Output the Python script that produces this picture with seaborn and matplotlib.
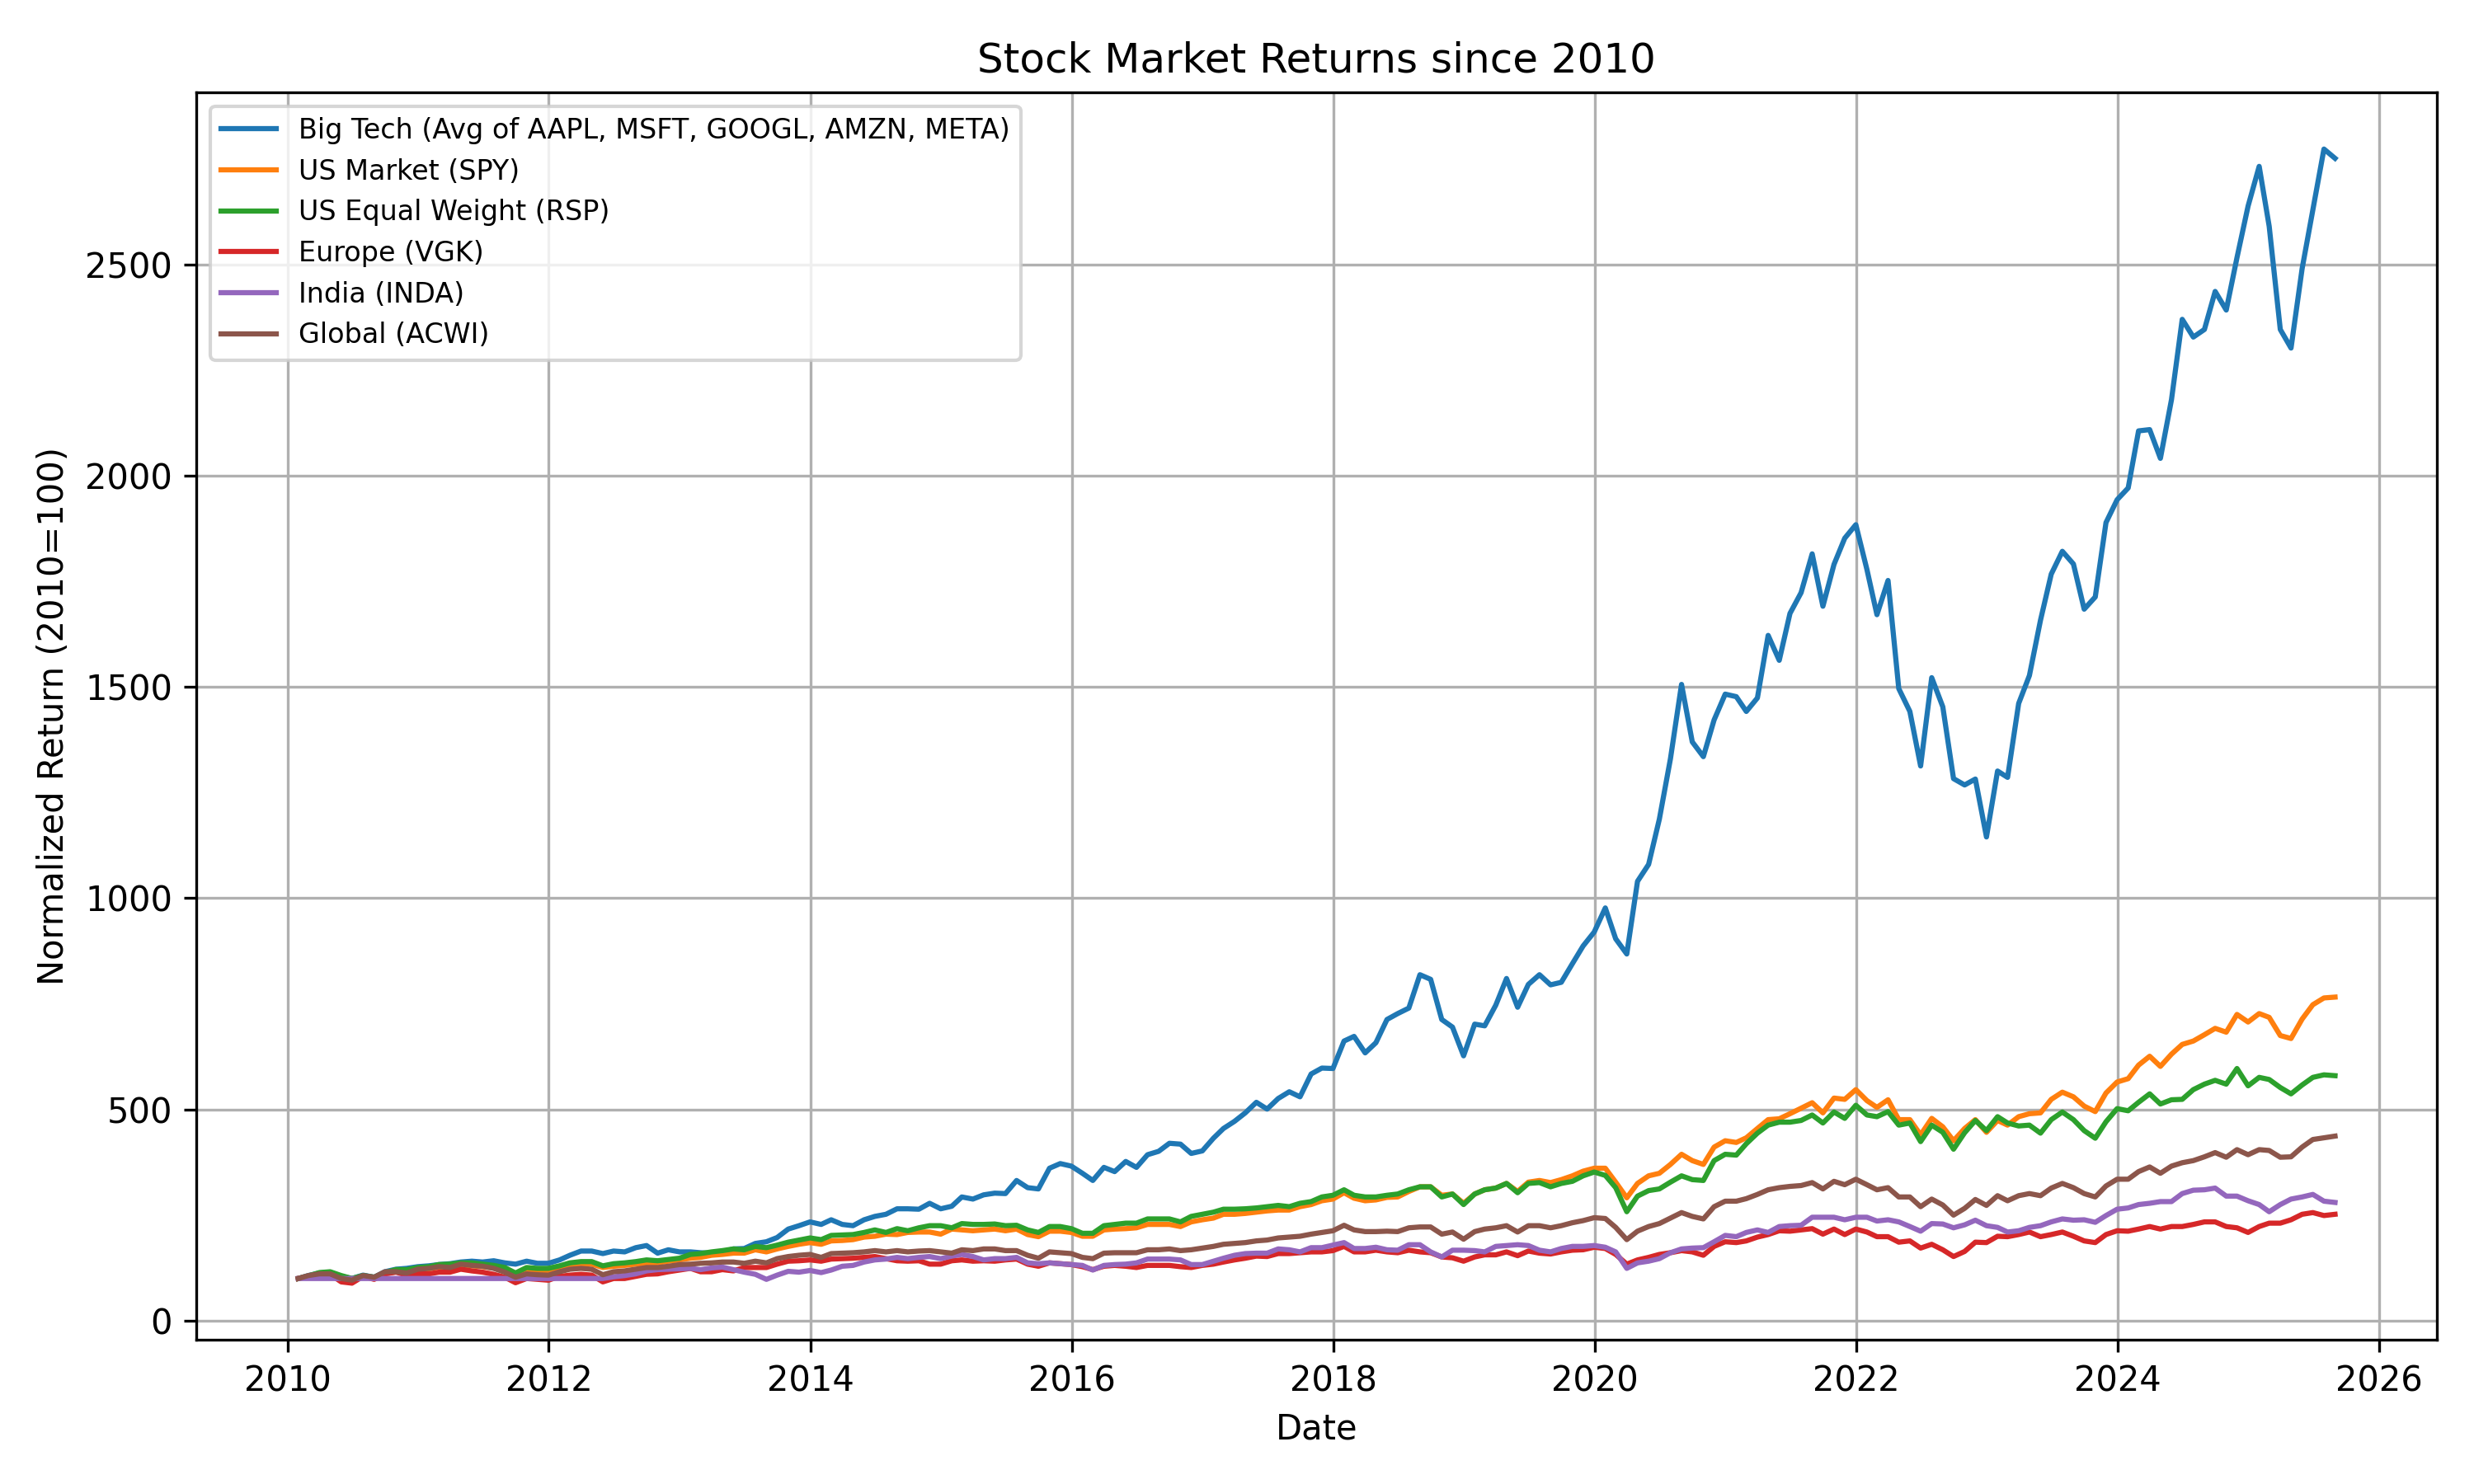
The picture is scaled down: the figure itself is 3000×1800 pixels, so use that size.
# Stock market returns since 2010, monthly, normalized to 100 at the start.

import pandas as pd
import matplotlib
matplotlib.use("Agg")
import matplotlib.pyplot as plt
import seaborn as sns

# month-end dates, Jan 2010 .. Aug 2025
dates = pd.date_range("2010-01-31", periods=188, freq="ME")

big_tech = [
    100, 107, 113, 115, 105, 100, 108, 103, 116, 122, 124, 128, 130, 133, 135, 139, 141, 139, 142, 137,
    134, 141, 136, 136, 144, 155, 165, 165, 159, 165, 163, 173, 178, 160, 168, 163, 163, 161, 160, 163,
    170, 171, 183, 187, 197, 217, 225, 234,
    228, 239, 228, 225, 239, 247, 252, 265, 265, 264, 278, 265, 271, 293, 288, 298, 302, 301, 332, 315,
    312, 361, 372, 366, 349, 332, 363, 353, 377, 363, 393, 401, 420, 418, 396, 402, 432, 455, 472, 492,
    517, 501, 526, 542, 530, 584, 598, 597,
    662, 673, 634, 658, 713, 727, 740, 819, 808, 713, 695, 627, 702, 698, 747, 810, 742, 796, 819, 795,
    801, 845, 887, 920,
    977, 904, 868, 1040, 1080, 1187, 1330, 1506, 1370, 1335, 1422, 1483, 1477, 1442, 1474, 1622, 1563,
    1674, 1723, 1815, 1691, 1790, 1852, 1884, 1778, 1671, 1752, 1496, 1442, 1313, 1522,
    1453, 1283, 1268, 1282, 1145, 1301, 1286, 1461, 1527, 1658, 1767, 1821, 1791, 1684, 1713, 1889,
    1943, 1971, 2106, 2109, 2041, 2180, 2370, 2328, 2346, 2436, 2392, 2516, 2638, 2732, 2590, 2346,
    2302, 2490, 2629, 2773, 2751,
]

us_market = [
    100, 104, 110, 112, 105, 99, 105, 102, 111, 116, 117, 121, 123, 127, 128, 130, 130, 128, 125, 121,
    111, 121, 119, 119,
    126, 131, 134, 134, 126, 129, 131, 134, 135, 137, 141, 144, 148, 150, 155, 157, 160, 160, 168, 163,
    170, 176, 181, 185,
    181, 189, 190, 192, 198, 200, 205, 204, 209, 210, 210, 205, 217, 215, 213, 215, 217, 213, 217, 204,
    199, 212, 212, 209, 200, 200, 215, 217, 218, 220, 228, 228, 228, 223, 234, 239, 243, 252, 252, 254,
    257, 260, 262, 262, 270, 275, 284, 288,
    303, 290, 284, 286, 292, 293, 306, 317, 317, 297, 300, 278, 300, 310, 314, 325, 306, 328, 332, 327,
    334, 343, 354, 361, 361,
    328, 291, 325, 343, 349, 370, 394, 379, 370, 411, 426, 422, 433, 455, 476, 478, 490, 503, 516, 492,
    527, 524, 547, 521, 505, 523, 476, 476, 440, 479,
    459, 426, 455, 476, 446, 474, 463, 483, 490, 492, 524, 541, 530, 508, 495, 539, 565, 573,
    605, 626, 602, 631, 654, 662, 677, 692, 683, 725, 707, 727, 718, 675, 668, 714, 748, 764, 766,
]

us_equal_weight = [
    100, 106, 114, 116, 107, 100, 107, 103, 114, 121, 121, 126, 128, 133, 134, 137, 137, 134, 131, 126,
    113, 126, 124, 124, 130, 137, 140, 140, 130, 135, 137, 140, 144, 142, 145, 148, 157, 159, 163, 166,
    170, 168, 176, 173, 179, 186, 191, 196,
    192, 202, 203, 204, 209, 215, 209, 218, 213, 220, 225, 225, 220, 230, 228, 228, 229, 225, 226, 215,
    209, 223, 223, 218, 207, 207, 225, 228, 231, 231, 241, 241, 241, 234, 247, 252, 257, 264, 264, 265,
    267, 270, 273, 270, 278, 282, 293, 297,
    310, 297, 293, 293, 297, 300, 310, 317, 317, 293, 300, 275, 300, 310, 314, 325, 303, 325, 327, 317,
    325, 330, 343, 352, 344,
    315, 258, 295, 308, 312, 328, 343, 334, 332, 379, 394, 392, 419, 444, 463, 470, 470, 474, 487, 468,
    494, 479, 510, 487, 483, 495, 463, 468, 424, 463,
    446, 406, 445, 474, 450, 483, 468, 461, 463, 444, 476, 494, 476, 450, 432, 471, 502, 497, 517, 537,
    513, 523, 524, 547, 560, 569, 560, 597, 556, 576, 571, 552, 537, 558, 576, 582, 580,
]

europe = [
    100, 105, 110, 110, 92, 89, 105, 98, 111, 115, 108, 111, 111, 115, 115, 122, 118, 115, 110, 103,
    90, 100, 98, 96, 105, 108, 110, 108, 92, 100, 100, 105, 110, 111, 116, 120, 124, 116, 116, 121,
    118, 126, 126, 126, 134, 141, 142, 144,
    141, 146, 147, 148, 150, 152, 147, 142, 141, 142, 134, 134, 142, 144, 141, 142, 141, 144, 146, 134,
    129, 137, 135, 133, 128, 121, 129, 131, 129, 126, 131, 131, 131, 128, 126, 131, 134, 139, 144, 148,
    153, 152, 159, 159, 161, 163, 163, 166,
    176, 163, 163, 167, 163, 161, 167, 163, 161, 151, 149, 141, 151, 156, 156, 163, 154, 165, 160, 158,
    163, 167, 168, 174, 171,
    157, 134, 144, 150, 157, 161, 166, 163, 155, 176, 187, 185, 189, 198, 204, 213, 212, 215, 218, 205,
    217, 204, 217, 210, 199, 199, 186, 189, 172, 181,
    168, 152, 164, 186, 185, 200, 199, 204, 210, 199, 204, 210, 200, 189, 185, 204, 213, 212, 217, 223,
    217, 223, 223, 228, 234, 234, 223, 220, 209, 223, 231, 231, 239, 252, 256, 249, 252,
]

# INDA held flat at 100 before its data starts
india = [
    100, 100, 100, 100, 100, 100, 100, 100, 100, 100, 100, 100, 100, 100, 100, 100, 100, 100, 100, 100,
    100, 100, 100, 100, 100, 100, 100, 100, 100,
    104, 107, 111, 118, 121, 122, 123, 124, 121, 125, 127, 121, 115, 110, 98, 108, 117, 115, 119,
    114, 120, 129, 131, 139, 144, 146, 150, 147, 150, 152, 147, 153, 157, 152, 144, 147, 147, 150, 137,
    135, 137, 135, 133, 131, 120, 131, 133, 134, 137, 146, 146, 146, 144, 133, 133, 141, 148, 155, 159,
    160, 160, 170, 168, 163, 173, 173, 179,
    185, 171, 171, 174, 168, 167, 180, 180, 163, 151, 167, 167, 166, 163, 176, 178, 180, 178, 167, 163,
    171, 176, 176, 178, 174,
    163, 124, 137, 141, 147, 161, 170, 172, 173, 187, 202, 199, 209, 215, 209, 223, 225, 226, 245, 245,
    245, 239, 245, 245, 236, 239, 234, 223, 212, 230,
    229, 220, 227, 238, 225, 221, 210, 213, 221, 225, 234, 241, 238, 239, 233, 249, 264, 267, 275, 278,
    282, 282, 301, 309, 310, 314, 295, 295, 284, 275, 258, 275, 288, 293, 299, 283, 280,
]

global_acwi = [
    100, 107, 111, 111, 100, 96, 107, 103, 116, 116, 113, 122, 124, 128, 126, 134, 131, 129, 124, 115,
    103, 111, 109, 108, 116, 122, 124, 122, 109, 116, 118, 122, 126, 126, 129, 133, 134, 136, 137, 139,
    139, 136, 141, 137, 147, 152, 155, 157,
    150, 159, 160, 161, 163, 166, 163, 166, 163, 165, 166, 163, 160, 168, 166, 170, 170, 166, 166, 155,
    148, 163, 161, 159, 150, 147, 160, 161, 161, 161, 168, 168, 170, 166, 168, 172, 176, 181, 183, 185,
    189, 191, 196, 198, 200, 205, 209, 213,
    226, 215, 211, 211, 212, 211, 220, 222, 222, 205, 210, 193, 211, 217, 220, 225, 210, 225, 225, 220,
    225, 232, 237, 244, 242,
    221, 192, 212, 223, 230, 243, 256, 247, 241, 270, 283, 283, 289, 299, 310, 315, 318, 320, 327, 312,
    330, 322, 335, 322, 310, 315, 293, 293, 270, 288,
    274, 250, 266, 287, 273, 296, 284, 296, 301, 296, 314, 325, 315, 301, 293, 319, 335, 335, 353, 364,
    349, 366, 374, 379, 388, 398, 387, 405, 393, 405, 403, 387, 388, 411, 429, 433, 437,
]

series = {
    "Big Tech (Avg of AAPL, MSFT, GOOGL, AMZN, META)": big_tech,
    "US Market (SPY)": us_market,
    "US Equal Weight (RSP)": us_equal_weight,
    "Europe (VGK)": europe,
    "India (INDA)": india,
    "Global (ACWI)": global_acwi,
}

for name, vals in series.items():
    assert len(vals) == len(dates), (name, len(vals))

fig, ax = plt.subplots(figsize=(10, 6))

for name, vals in series.items():
    sns.lineplot(x=dates, y=vals, label=name, ax=ax, linewidth=1.5)

ax.set_title("Stock Market Returns since 2010")
ax.set_xlabel("Date")
ax.set_ylabel("Normalized Return (2010=100)")
ax.legend(loc="upper left", fontsize=8)
ax.grid(True)

plt.tight_layout()
plt.savefig("out.png", dpi=300)
